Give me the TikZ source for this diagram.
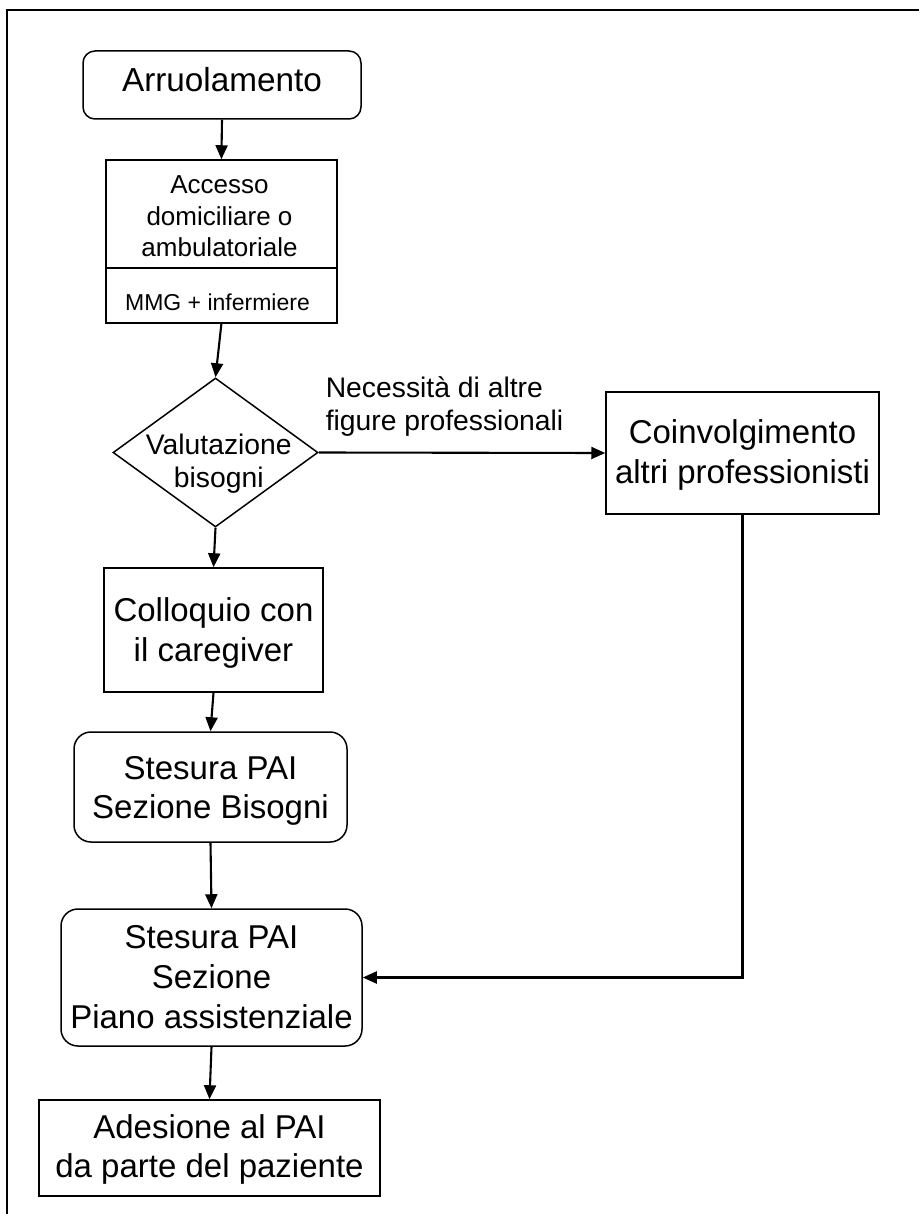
\documentclass[tikz,border=0pt]{standalone}
\usepackage{fontspec}
\setmainfont{Liberation Sans}
\usetikzlibrary{arrows.meta,shapes.geometric}
\begin{document}
\begin{tikzpicture}[x=1pt,y=-1pt,
  box/.style={draw=black, line width=1.5pt, inner sep=0pt, align=center,
    font=\fontsize{33}{40}\selectfont, text height=23.6pt},
  rbox/.style={box, rounded corners=17pt},
  arr/.style={line width=2.1pt, -{Triangle[length=14pt,width=12pt]}},
  plain/.style={inner sep=0pt, align=center},
  frame/.style={line width=1.8pt}
]
\useasboundingbox (0,0) rectangle (919,1214);
\coordinate (fbl) at (7,1214);
\coordinate (ftl) at (7,10);
\coordinate (ftr) at (919,10);
\draw[frame] (fbl) -- (ftl) -- (ftr);

\node[rbox, rounded corners=12pt, minimum width=278pt, minimum height=68pt,
  font=\fontsize{33.3}{40}\selectfont, text height=23.8pt, text depth=9.8pt]
  (arru) at (222,85) {Arruolamento};

\node[box, minimum width=231.3pt, minimum height=163pt] (acc) at (221.4,241.5) {};
\coordinate (div) at (0,268);
\draw[line width=1.5pt] (acc.west |- div) -- (acc.east |- div);
\node[plain, font=\fontsize{26}{31.5}\selectfont, text height=81.6pt, text depth=0pt]
  (acct) at (219.5,216.2) {Accesso\\domiciliare o\\ambulatoriale};
\node[plain, font=\fontsize{23}{27}\selectfont, text height=16.5pt, text depth=0pt]
  (mmg) at (217.5,301.75) {MMG + infermiere};

\node[draw, diamond, line width=1.5pt, minimum width=205pt, minimum height=149pt,
  inner sep=0pt] (dia) at (215.5,452.5) {};
\node[plain, font=\fontsize{28.3}{33}\selectfont, text height=53.3pt, text depth=0pt]
  (diat) at (218.8,461.3) {Valutazione\\bisogni};

\node[box, minimum width=273pt, minimum height=122pt, text height=63.6pt, text depth=3.6pt]
  (coi) at (742.5,453) {Coinvolgimento\\altri professionisti};
\node[box, minimum width=219pt, minimum height=124pt, text height=63.6pt, text depth=0pt]
  (col) at (213.5,630) {Colloquio con\\il caregiver};
\node[rbox, minimum width=273pt, minimum height=110pt, text height=62.6pt, text depth=0pt,
  font=\fontsize{33}{39}\selectfont]
  (bis) at (210.5,787) {Stesura PAI\\Sezione Bisogni};
\node[rbox, minimum width=301pt, minimum height=137pt, text height=103.6pt, text depth=2.6pt]
  (pia) at (211.5,977.5) {Stesura PAI\\Sezione\\Piano assistenziale};
\node[box, minimum width=341pt, minimum height=96pt, text height=62.6pt, text depth=4.6pt,
  font=\fontsize{33}{39}\selectfont]
  (ade) at (209.5,1148) {Adesione al PAI\\da parte del paziente};

\draw[arr] (arru.south) -- (acc.north);
\draw[arr] (acc.south) -- (dia.north);
\draw[arr] (dia.south) -- (col.north);
\draw[arr] (col.south) -- (bis.north);
\draw[arr] (bis.south) -- (pia.north);
\draw[arr] (pia.south) -- (ade.north);
\draw[arr] (dia.east) -- node[plain, pos=0, anchor=base west, align=left,
  xshift=6pt, yshift=22.5pt, font=\fontsize{28.3}{33}\selectfont]
  (lab) {Necessità di altre\\figure professionali} (coi.west);
\draw[arr] (coi.south) |- (pia.east);
\end{tikzpicture}
\end{document}
